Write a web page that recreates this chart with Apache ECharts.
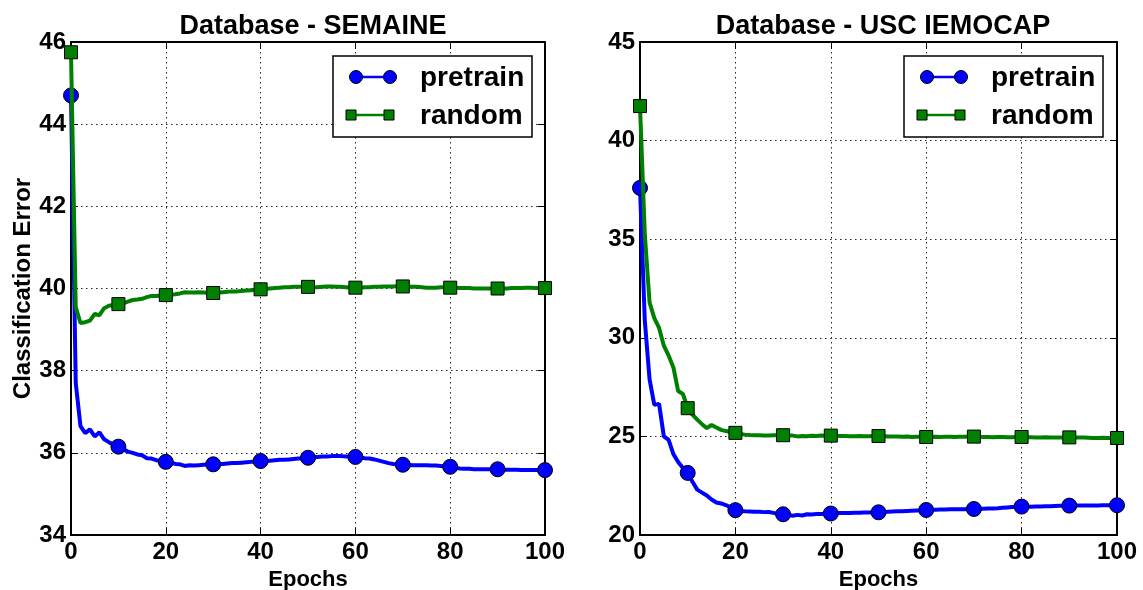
<!DOCTYPE html>
<html>
<head>
<meta charset="utf-8">
<script src="https://cdn.jsdelivr.net/npm/echarts@6/dist/echarts.min.js"></script>
<style>
  html, body { margin: 0; padding: 0; background: #fff; }
  #chart { width: 1143px; height: 590px; }
</style>
</head>
<body>
<div id="chart"></div>
<script>
// values per epoch (0..100)
const semPretrain = [
  44.70, 37.70, 36.65, 36.48, 36.57, 36.40, 36.50, 36.33, 36.26, 36.20,
  36.15, 36.09, 36.03, 36.00, 35.96, 35.94, 35.87, 35.86, 35.82, 35.80,
  35.78, 35.77, 35.73, 35.72, 35.68, 35.70, 35.69, 35.70, 35.71, 35.72,
  35.72, 35.73, 35.73, 35.74, 35.75, 35.75, 35.76, 35.77, 35.78, 35.78,
  35.80, 35.80, 35.81, 35.82, 35.83, 35.83, 35.84, 35.85, 35.86, 35.87,
  35.88, 35.89, 35.90, 35.91, 35.91, 35.92, 35.92, 35.92, 35.91, 35.91,
  35.90, 35.89, 35.87, 35.86, 35.84, 35.81, 35.78, 35.75, 35.73, 35.72,
  35.71, 35.71, 35.70, 35.70, 35.70, 35.70, 35.69, 35.69, 35.68, 35.67,
  35.66, 35.64, 35.62, 35.61, 35.61, 35.60, 35.60, 35.60, 35.60, 35.60,
  35.60, 35.59, 35.59, 35.59, 35.59, 35.58, 35.58, 35.58, 35.58, 35.58,
  35.58
];
const semRandom = [
  45.75, 39.55, 39.16, 39.18, 39.22, 39.38, 39.35, 39.52, 39.58, 39.60,
  39.62, 39.64, 39.68, 39.72, 39.73, 39.75, 39.79, 39.82, 39.82, 39.83,
  39.84, 39.85, 39.86, 39.88, 39.91, 39.90, 39.90, 39.91, 39.90, 39.89,
  39.89, 39.90, 39.91, 39.92, 39.93, 39.93, 39.94, 39.95, 39.96, 39.97,
  39.98, 39.99, 40.00, 40.01, 40.02, 40.03, 40.03, 40.04, 40.04, 40.04,
  40.04, 40.03, 40.03, 40.04, 40.05, 40.05, 40.04, 40.04, 40.03, 40.02,
  40.02, 40.02, 40.03, 40.03, 40.04, 40.04, 40.05, 40.05, 40.05, 40.06,
  40.05, 40.05, 40.04, 40.04, 40.03, 40.02, 40.02, 40.02, 40.03, 40.03,
  40.02, 40.02, 40.01, 40.01, 40.01, 40.00, 40.00, 40.00, 40.00, 40.00,
  40.00, 40.00, 40.00, 40.01, 40.01, 40.01, 40.02, 40.02, 40.01, 40.01,
  40.01
];
const iemPretrain = [
  37.60, 30.90, 27.90, 26.60, 26.65, 25.00, 24.82, 24.10, 23.70, 23.40,
  23.15, 22.70, 22.30, 22.15, 22.00, 21.80, 21.65, 21.60, 21.52, 21.40,
  21.26, 21.22, 21.20, 21.19, 21.18, 21.18, 21.16, 21.17, 21.12, 21.08,
  21.05, 21.03, 20.98, 21.02, 20.99, 21.05, 21.04, 21.06, 21.07, 21.08,
  21.09, 21.10, 21.11, 21.12, 21.12, 21.13, 21.13, 21.14, 21.14, 21.15,
  21.15, 21.16, 21.18, 21.19, 21.20, 21.21, 21.22, 21.23, 21.24, 21.25,
  21.27, 21.28, 21.28, 21.29, 21.29, 21.30, 21.30, 21.31, 21.31, 21.32,
  21.32, 21.33, 21.33, 21.34, 21.35, 21.36, 21.38, 21.40, 21.42, 21.43,
  21.44, 21.44, 21.43, 21.44, 21.45, 21.46, 21.46, 21.47, 21.48, 21.48,
  21.49, 21.49, 21.49, 21.50, 21.50, 21.50, 21.50, 21.51, 21.51, 21.51,
  21.51
];
const iemRandom = [
  41.75, 35.30, 31.80, 31.00, 30.50, 29.60, 29.10, 28.50, 27.30, 27.15,
  26.43, 26.10, 25.85, 25.62, 25.42, 25.58, 25.45, 25.33, 25.27, 25.22,
  25.18, 25.12, 25.09, 25.07, 25.06, 25.06, 25.05, 25.05, 25.06, 25.06,
  25.06, 25.05, 25.04, 25.00, 25.02, 25.01, 25.03, 25.02, 25.04, 25.03,
  25.04, 25.03, 25.02, 25.02, 25.01, 25.01, 25.02, 25.01, 25.01, 25.02,
  25.02, 25.01, 25.00, 24.99, 25.00, 24.98, 24.99, 24.97, 24.98, 24.98,
  24.97, 24.97, 24.98, 24.97, 24.98, 24.98, 24.97, 24.98, 24.98, 24.99,
  24.99, 24.98, 24.97, 24.97, 24.96, 24.97, 24.97, 24.96, 24.96, 24.97,
  24.97, 24.96, 24.96, 24.95, 24.95, 24.96, 24.95, 24.95, 24.94, 24.95,
  24.95, 24.95, 24.94, 24.94, 24.93, 24.92, 24.92, 24.93, 24.92, 24.92,
  24.92
];
const titles = ['Database - SEMAINE', 'Database - USC IEMOCAP'];
const seriesNames = ['pretrain', 'random'];
const yRanges = [[34, 46, 2], [20, 45, 5]];

const FONT = '"Liberation Sans", Arial, sans-serif';
const BLUE = '#0000ff';
const GREEN = '#008000';

const chart = echarts.init(document.getElementById('chart'), null, { renderer: 'canvas' });

const grids = [
  { left: 71, right: 598, top: 42, bottom: 55, outerBoundsMode: 'none' },
  { left: 640, right: 26, top: 42, bottom: 55, outerBoundsMode: 'none' }
];

const dotted = { color: '#222', width: 1, type: [1.5, 3.5] };
const tick = { show: true, inside: true, length: 7, lineStyle: { color: '#000', width: 1 } };
const frame = { show: true, onZero: false, lineStyle: { color: '#000', width: 2 } };
const label = { fontFamily: FONT, fontWeight: 'bold', fontSize: 24, color: '#000' };

const xAxes = [], yAxes = [];
grids.forEach((g, i) => {
  xAxes.push({
    gridIndex: i, type: 'value', min: 0, max: 100, interval: 20, position: 'bottom',
    name: 'Epochs', nameLocation: 'middle', nameGap: 34,
    nameTextStyle: { fontFamily: FONT, fontWeight: 'bold', fontSize: 22, color: '#000' },
    axisLine: frame, axisTick: tick, axisLabel: Object.assign({ margin: 5 }, label),
    splitLine: { show: true, lineStyle: dotted }
  });
  xAxes.push({
    gridIndex: i, type: 'value', min: 0, max: 100, interval: 20, position: 'top',
    axisLine: frame, axisTick: tick, axisLabel: { show: false }, splitLine: { show: false }
  });
  const [mn, mx, step] = yRanges[i];
  yAxes.push({
    gridIndex: i, type: 'value', min: mn, max: mx, interval: step, position: 'left',
    name: i === 0 ? 'Classification Error' : '', nameLocation: 'middle', nameGap: 36,
    nameTextStyle: { fontFamily: FONT, fontWeight: 'bold', fontSize: 24, color: '#000' },
    axisLine: frame, axisTick: tick, axisLabel: Object.assign({ margin: 5 }, label),
    splitLine: { show: true, lineStyle: dotted }
  });
  yAxes.push({
    gridIndex: i, type: 'value', min: mn, max: mx, interval: step, position: 'right',
    axisLine: frame, axisTick: tick, axisLabel: { show: false }, splitLine: { show: false }
  });
});

function makeSeries(name, values, gi, color, symbol, size) {
  return {
    name: name, type: 'line', xAxisIndex: gi * 2, yAxisIndex: gi * 2,
    data: values.map((v, i) => [i, v]),
    symbol: symbol, showAllSymbol: true,
    symbolSize: (v, p) => (p.dataIndex % 10 === 0 ? size : 0),
    lineStyle: { color: color, width: 4 },
    itemStyle: { color: color, borderColor: '#000', borderWidth: 1 },
    emphasis: { disabled: true }, clip: true, z: name === 'pretrain' ? 3 : 4
  };
}

// legend drawn to look like the matplotlib one (marker at both ends of the line)
function legendBox(x0) {
  const y0 = 56;
  const txt = (t, y) => ({
    type: 'text', x: x0 + 87, y: y,
    style: { text: t, fontFamily: FONT, fontWeight: 'bold', fontSize: 28, fill: '#000', verticalAlign: 'middle' }
  });
  return [
    { type: 'rect', shape: { x: x0, y: y0, width: 199, height: 81 }, style: { fill: '#fff', stroke: '#000', lineWidth: 1.5 }, z: 10 },
    { type: 'line', shape: { x1: x0 + 23, y1: 77, x2: x0 + 57, y2: 77 }, style: { stroke: BLUE, lineWidth: 2.5 }, z: 11 },
    { type: 'circle', shape: { cx: x0 + 23, cy: 77, r: 6.5 }, style: { fill: BLUE, stroke: '#000', lineWidth: 1 }, z: 12 },
    { type: 'circle', shape: { cx: x0 + 57, cy: 77, r: 6.5 }, style: { fill: BLUE, stroke: '#000', lineWidth: 1 }, z: 12 },
    { type: 'line', shape: { x1: x0 + 18, y1: 115, x2: x0 + 56, y2: 115 }, style: { stroke: GREEN, lineWidth: 2.5 }, z: 11 },
    { type: 'rect', shape: { x: x0 + 13, y: 110, width: 10, height: 10 }, style: { fill: GREEN, stroke: '#000', lineWidth: 1 }, z: 12 },
    { type: 'rect', shape: { x: x0 + 51, y: 110, width: 10, height: 10 }, style: { fill: GREEN, stroke: '#000', lineWidth: 1 }, z: 12 },
    Object.assign(txt(seriesNames[0], 78), { z: 12 }),
    Object.assign(txt(seriesNames[1], 116), { z: 12 })
  ];
}

const option = {
  animation: false,
  backgroundColor: '#fff',
  title: [
    { text: titles[0], left: 308, top: 8, textAlign: 'center',
      textStyle: { fontFamily: FONT, fontWeight: 'bold', fontSize: 27, color: '#000' } },
    { text: titles[1], left: 878, top: 8, textAlign: 'center',
      textStyle: { fontFamily: FONT, fontWeight: 'bold', fontSize: 27, color: '#000' } }
  ],
  grid: grids,
  xAxis: xAxes,
  yAxis: yAxes,
  series: [
    makeSeries(seriesNames[0], semPretrain, 0, BLUE, 'circle', 15),
    makeSeries(seriesNames[1], semRandom, 0, GREEN, 'rect', 13),
    makeSeries(seriesNames[0], iemPretrain, 1, BLUE, 'circle', 15),
    makeSeries(seriesNames[1], iemRandom, 1, GREEN, 'rect', 13)
  ],
  graphic: legendBox(333).concat(legendBox(904))
};

chart.setOption(option);
</script>
</body>
</html>
